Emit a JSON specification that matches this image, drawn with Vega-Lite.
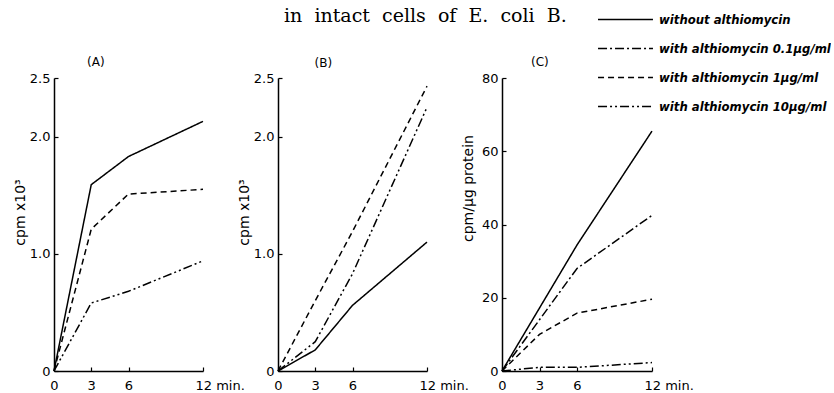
{
  "$schema": "https://vega.github.io/schema/vega-lite/v6.json",
  "background": "white",
  "padding": {"left": 13, "top": -2, "right": 0, "bottom": 0},
  "bounds": "flush",
  "spacing": 75,
  "data": {"values": [
    {"panel": "A", "condition": "without althiomycin", "t": 0, "v": 0},
    {"panel": "A", "condition": "without althiomycin", "t": 3, "v": 1.59},
    {"panel": "A", "condition": "without althiomycin", "t": 6, "v": 1.83},
    {"panel": "A", "condition": "without althiomycin", "t": 12, "v": 2.13},
    {"panel": "A", "condition": "with althiomycin 1µg/ml", "t": 0, "v": 0},
    {"panel": "A", "condition": "with althiomycin 1µg/ml", "t": 3, "v": 1.21},
    {"panel": "A", "condition": "with althiomycin 1µg/ml", "t": 6, "v": 1.51},
    {"panel": "A", "condition": "with althiomycin 1µg/ml", "t": 12, "v": 1.55},
    {"panel": "A", "condition": "with althiomycin 10µg/ml", "t": 0, "v": 0},
    {"panel": "A", "condition": "with althiomycin 10µg/ml", "t": 3, "v": 0.58},
    {"panel": "A", "condition": "with althiomycin 10µg/ml", "t": 6, "v": 0.68},
    {"panel": "A", "condition": "with althiomycin 10µg/ml", "t": 12, "v": 0.94},
    {"panel": "B", "condition": "without althiomycin", "t": 0, "v": 0},
    {"panel": "B", "condition": "without althiomycin", "t": 3, "v": 0.18},
    {"panel": "B", "condition": "without althiomycin", "t": 6, "v": 0.56},
    {"panel": "B", "condition": "without althiomycin", "t": 12, "v": 1.10},
    {"panel": "B", "condition": "with althiomycin 1µg/ml", "t": 0, "v": 0},
    {"panel": "B", "condition": "with althiomycin 1µg/ml", "t": 3, "v": 0.60},
    {"panel": "B", "condition": "with althiomycin 1µg/ml", "t": 6, "v": 1.19},
    {"panel": "B", "condition": "with althiomycin 1µg/ml", "t": 12, "v": 2.43},
    {"panel": "B", "condition": "with althiomycin 10µg/ml", "t": 0, "v": 0},
    {"panel": "B", "condition": "with althiomycin 10µg/ml", "t": 3, "v": 0.25},
    {"panel": "B", "condition": "with althiomycin 10µg/ml", "t": 6, "v": 0.83},
    {"panel": "B", "condition": "with althiomycin 10µg/ml", "t": 12, "v": 2.25},
    {"panel": "C", "condition": "without althiomycin", "t": 0, "v": 0},
    {"panel": "C", "condition": "without althiomycin", "t": 3, "v": 17.2},
    {"panel": "C", "condition": "without althiomycin", "t": 6, "v": 34.4},
    {"panel": "C", "condition": "without althiomycin", "t": 12, "v": 65.5},
    {"panel": "C", "condition": "with althiomycin 0.1µg/ml", "t": 0, "v": 0},
    {"panel": "C", "condition": "with althiomycin 0.1µg/ml", "t": 3, "v": 14},
    {"panel": "C", "condition": "with althiomycin 0.1µg/ml", "t": 6, "v": 28},
    {"panel": "C", "condition": "with althiomycin 0.1µg/ml", "t": 12, "v": 42.5},
    {"panel": "C", "condition": "with althiomycin 1µg/ml", "t": 0, "v": 0},
    {"panel": "C", "condition": "with althiomycin 1µg/ml", "t": 3, "v": 10},
    {"panel": "C", "condition": "with althiomycin 1µg/ml", "t": 6, "v": 15.8},
    {"panel": "C", "condition": "with althiomycin 1µg/ml", "t": 12, "v": 19.6},
    {"panel": "C", "condition": "with althiomycin 10µg/ml", "t": 0, "v": 0},
    {"panel": "C", "condition": "with althiomycin 10µg/ml", "t": 3, "v": 1.0},
    {"panel": "C", "condition": "with althiomycin 10µg/ml", "t": 6, "v": 1.0},
    {"panel": "C", "condition": "with althiomycin 10µg/ml", "t": 12, "v": 2.3}
  ]},
  "hconcat": [
    {
      "width": 149, "height": 293,
      "title": {"text": "(A)", "anchor": "start", "frame": "group", "dx": 33, "offset": 3},
      "transform": [{"filter": "datum.panel == 'A'"}],
      "mark": {"type": "line", "color": "black", "strokeWidth": 1.5},
      "encoding": {
        "x": {"field": "t", "type": "quantitative", "scale": {"domain": [0, 12], "nice": false},
              "axis": {"values": [0, 3, 6, 12], "title": null, "labelPadding": 12, "labelExpr": "datum.value == 12 ? '12 min.' : datum.label",
                       "labelAlign": {"condition": {"test": "datum.value == 12", "value": "left"}, "value": "center"},
                       "labelOffset": {"condition": {"test": "datum.value == 12", "value": -8}, "value": 0}}},
        "y": {"field": "v", "type": "quantitative", "scale": {"domain": [0, 2.5], "nice": false},
              "axis": {"values": [0, 1, 2, 2.5], "title": "cpm   x10³", "titlePadding": 2, "titleY": 134,
                       "labelExpr": "datum.value == 0 ? '0' : format(datum.value, '.1f')"}},
        "strokeDash": {"field": "condition", "type": "nominal",
          "scale": {"domain": ["without althiomycin", "with althiomycin 0.1µg/ml", "with althiomycin 1µg/ml", "with althiomycin 10µg/ml"],
                    "range": [[1, 0], [9, 3, 2, 3], [6, 4], [9, 3, 2, 3, 2, 3]]},
          "legend": {"title": null}}
      }
    },
    {
      "width": 149, "height": 293,
      "title": {"text": "in \u00a0intact \u00a0cells \u00a0of \u00a0E. \u00a0coli \u00a0B.", "subtitle": "\u200b\u00a0\u00a0\u00a0\u00a0\u00a0\u00a0\u00a0\u00a0(B)",
                "anchor": "start", "frame": "group", "dx": 6, "offset": 3,
                "font": "DejaVu Serif", "fontSize": 19, "subtitleFont": "DejaVu Sans", "subtitleFontSize": 12,
                "subtitleColor": "black", "subtitlePadding": 32},
      "transform": [{"filter": "datum.panel == 'B'"}],
      "mark": {"type": "line", "color": "black", "strokeWidth": 1.5},
      "encoding": {
        "x": {"field": "t", "type": "quantitative", "scale": {"domain": [0, 12], "nice": false},
              "axis": {"values": [0, 3, 6, 12], "title": null, "labelPadding": 12, "labelExpr": "datum.value == 12 ? '12 min.' : datum.label",
                       "labelAlign": {"condition": {"test": "datum.value == 12", "value": "left"}, "value": "center"},
                       "labelOffset": {"condition": {"test": "datum.value == 12", "value": -8}, "value": 0}}},
        "y": {"field": "v", "type": "quantitative", "scale": {"domain": [0, 2.5], "nice": false},
              "axis": {"values": [0, 1, 2, 2.5], "title": "cpm   x10³", "titlePadding": 2, "titleY": 134,
                       "labelExpr": "datum.value == 0 ? '0' : format(datum.value, '.1f')"}},
        "strokeDash": {"field": "condition", "type": "nominal",
          "scale": {"domain": ["without althiomycin", "with althiomycin 0.1µg/ml", "with althiomycin 1µg/ml", "with althiomycin 10µg/ml"],
                    "range": [[1, 0], [9, 3, 2, 3], [6, 4], [9, 3, 2, 3, 2, 3]]},
          "legend": {"title": null}}
      }
    },
    {
      "width": 150, "height": 293,
      "title": {"text": "(C)", "anchor": "start", "frame": "group", "dx": 29, "offset": 3},
      "transform": [{"filter": "datum.panel == 'C'"}],
      "mark": {"type": "line", "color": "black", "strokeWidth": 1.5},
      "encoding": {
        "x": {"field": "t", "type": "quantitative", "scale": {"domain": [0, 12], "nice": false},
              "axis": {"values": [0, 3, 6, 12], "title": null, "labelPadding": 12, "labelExpr": "datum.value == 12 ? '12 min.' : datum.label",
                       "labelAlign": {"condition": {"test": "datum.value == 12", "value": "left"}, "value": "center"},
                       "labelOffset": {"condition": {"test": "datum.value == 12", "value": -8}, "value": 0}}},
        "y": {"field": "v", "type": "quantitative", "scale": {"domain": [0, 80], "nice": false},
              "axis": {"values": [0, 20, 40, 60, 80], "title": "cpm/µg protein", "titlePadding": 6, "titleY": 110}},
        "strokeDash": {"field": "condition", "type": "nominal",
          "scale": {"domain": ["without althiomycin", "with althiomycin 0.1µg/ml", "with althiomycin 1µg/ml", "with althiomycin 10µg/ml"],
                    "range": [[1, 0], [9, 3, 2, 3], [6, 4], [9, 3, 2, 3, 2, 3]]},
          "legend": {"title": null}}
      }
    }
  ],
  "config": {
    "view": {"stroke": null},
    "font": "DejaVu Sans",
    "title": {"font": "DejaVu Sans", "fontSize": 12, "fontWeight": "normal", "color": "black", "subtitleFontWeight": "normal"},
    "axis": {
      "grid": false,
      "domainColor": "black", "domainWidth": 1.5,
      "tickColor": "black", "tickWidth": 1.2, "tickSize": -4,
      "labelColor": "black", "labelFont": "DejaVu Sans", "labelFontSize": 13, "labelPadding": 8,
      "titleColor": "black", "titleFont": "DejaVu Sans", "titleFontSize": 14, "titleFontWeight": "normal"
    },
    "legend": {
      "orient": "none", "legendX": 550, "legendY": -80, "padding": 0,
      "symbolType": "M-1.34,0H1.34", "symbolSize": 1681, "symbolStrokeWidth": 1.5, "symbolStrokeColor": "black",
      "labelFont": "DejaVu Sans", "labelFontSize": 11.7, "labelFontStyle": "italic", "labelFontWeight": "bold", "labelColor": "black",
      "labelOffset": 12, "rowPadding": 0, "labelLimit": 300
    }
  }
}
